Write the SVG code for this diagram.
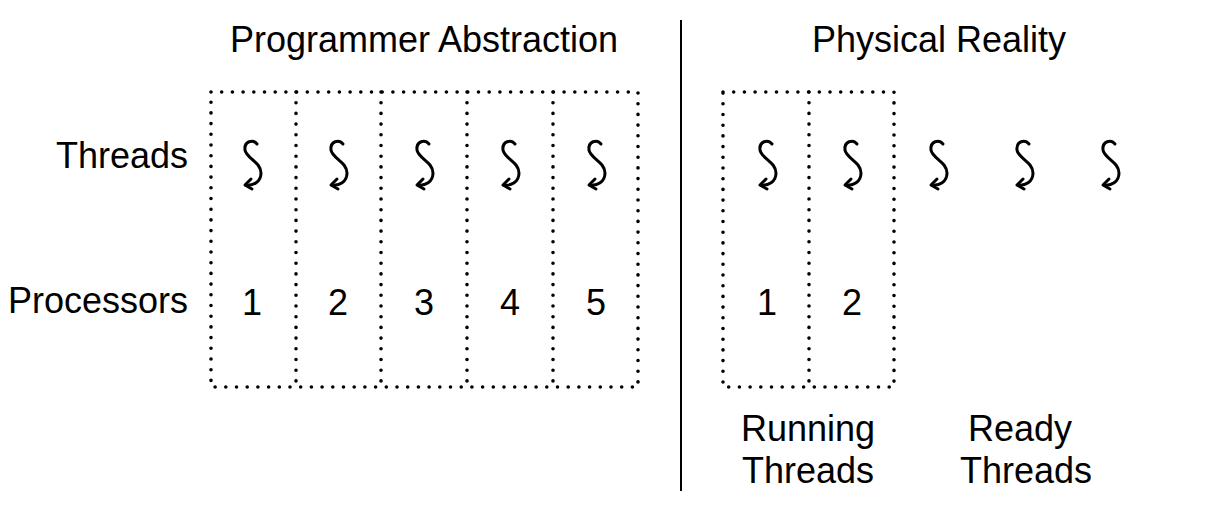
<svg xmlns="http://www.w3.org/2000/svg" width="1205" height="506" viewBox="0 0 1205 506">
<style>
text{font-family:"Liberation Sans",Arial,sans-serif;font-size:36px;fill:#000}
.dot{fill:none;stroke:#000;stroke-width:3.6;stroke-linecap:round;stroke-dasharray:0 10.7}
.num{text-anchor:middle}
.thr{fill:none;stroke:#000;stroke-width:3;stroke-linecap:round;stroke-linejoin:round}
</style>
<defs>
<g id="t">
<path class="thr" d="M5,-20 C1,-25 -8,-23 -7,-14 C-6,-6 9,-2 9,9 C9,18 1,22 -6,21"/>
<path class="thr" d="M-1,15 L-7,21 L0,25"/>
</g>
</defs>
<rect width="1205" height="506" fill="#fff"/>
<text x="424" y="52" class="num">Programmer Abstraction</text>
<text x="939" y="52" class="num">Physical Reality</text>
<line x1="681" y1="20" x2="681" y2="491" stroke="#000" stroke-width="2"/>
<text x="188" y="168" text-anchor="end">Threads</text>
<text x="188" y="313" text-anchor="end">Processors</text>
<g id="frames">
<rect class="dot" x="211" y="92" width="427" height="295"/>
<line class="dot" x1="296" y1="92" x2="296" y2="387"/>
<line class="dot" x1="381" y1="92" x2="381" y2="387"/>
<line class="dot" x1="467" y1="92" x2="467" y2="387"/>
<line class="dot" x1="553" y1="92" x2="553" y2="387"/>
<rect class="dot" x="723" y="92" width="171" height="295"/>
<line class="dot" x1="809" y1="92" x2="809" y2="387"/>
</g>
<g id="p1"><use href="#t" x="252" y="164"/><text x="252" y="315" class="num">1</text></g>
<g id="p2"><use href="#t" x="338" y="164"/><text x="338" y="315" class="num">2</text></g>
<g id="p3"><use href="#t" x="424" y="164"/><text x="424" y="315" class="num">3</text></g>
<g id="p4"><use href="#t" x="510" y="164"/><text x="510" y="315" class="num">4</text></g>
<g id="p5"><use href="#t" x="596" y="164"/><text x="596" y="315" class="num">5</text></g>
<g id="r1"><use href="#t" x="767" y="164"/><text x="767" y="315" class="num">1</text></g>
<g id="r2"><use href="#t" x="852" y="164"/><text x="852" y="315" class="num">2</text></g>
<g id="ready"><use href="#t" x="938" y="164"/><use href="#t" x="1024" y="164"/><use href="#t" x="1110" y="164"/></g>
<text x="808" y="441" class="num">Running</text>
<text x="808" y="483" class="num">Threads</text>
<text x="1020" y="441" class="num">Ready</text>
<text x="1026" y="483" class="num">Threads</text>
</svg>
